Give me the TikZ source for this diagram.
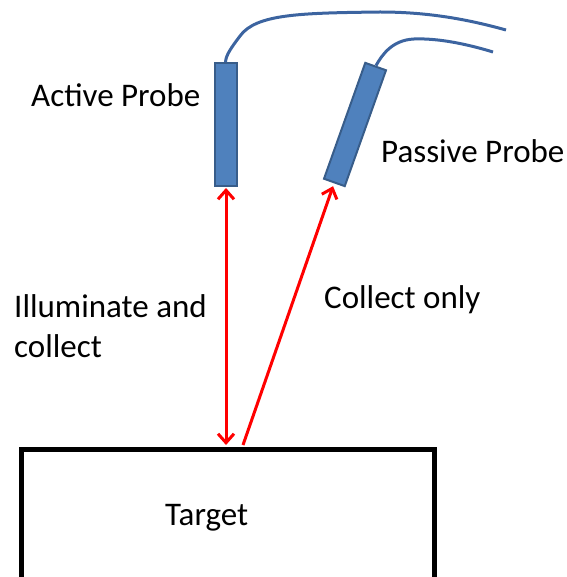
\documentclass[tikz,border=0pt]{standalone}
\usepackage{fontspec}
\setmainfont{Carlito}
\usetikzlibrary{arrows.meta}
\definecolor{probefill}{RGB}{79,129,189}
\definecolor{probeline}{RGB}{56,93,138}
\definecolor{cable}{RGB}{60,100,160}
\tikzset{
  probe/.style={draw=probeline, fill=probefill, line width=2pt, minimum width=22pt, minimum height=123pt, inner sep=0pt},
  cablestyle/.style={draw=cable, line width=3pt},
  ray/.style={draw=red, line width=3pt, arrows={-Straight Barb[length=9pt,width=16pt,line width=3pt]}},
  lbl/.style={font=\fontsize{33}{40}\selectfont, inner sep=0pt, anchor=base west, align=left},
}
\begin{document}
\begin{tikzpicture}[x=1pt,y=-1pt]
\useasboundingbox (0,0) rectangle (566,577);
\clip (0,0) rectangle (566,577);
% target
\node[draw=black, line width=4.5pt, minimum width=413pt, minimum height=160pt, anchor=north west, inner sep=0pt] (target) at (19,447) {};
\node[lbl] (targetlbl) at (165,525) {Target};
% probes
\node[probe] (active) at (225.5,124.5) {};
\node[probe, rotate=-19.6] (passive) at (355,124.5) {};
% cables
\coordinate (acableend) at (506,30);
\coordinate (pcableend) at (493,52);
\draw[cablestyle] (active.north) .. controls (226,55) and (231,48) .. (240,36)
  .. controls (256,14) and (300,13) .. (380,12)
  .. controls (430,12) and (470,20) .. (acableend);
\draw[cablestyle] (passive.north) .. controls (382,55) and (392,40) .. (414,39)
  .. controls (440,38) and (470,45) .. (pcableend);
% rays
\coordinate (abot) at (226,445);
\coordinate (pbot) at (243,445);
\coordinate (atop) at (226,188);
\draw[ray, arrows={Straight Barb[length=9pt,width=16pt,line width=3pt]-Straight Barb[length=9pt,width=16pt,line width=3pt]}] (atop) -- (abot);
\draw[ray, shorten >=3pt] (pbot) -- (passive.south);
% labels
\node[lbl] (activelbl) at (31,107) {Active Probe};
\node[lbl] (passivelbl) at (381,163) {Passive Probe};
\node[lbl] (illumlbl) at (14,357) {Illuminate and\\collect};
\node[lbl] (collectlbl) at (324,308) {Collect only};
\end{tikzpicture}
\end{document}
